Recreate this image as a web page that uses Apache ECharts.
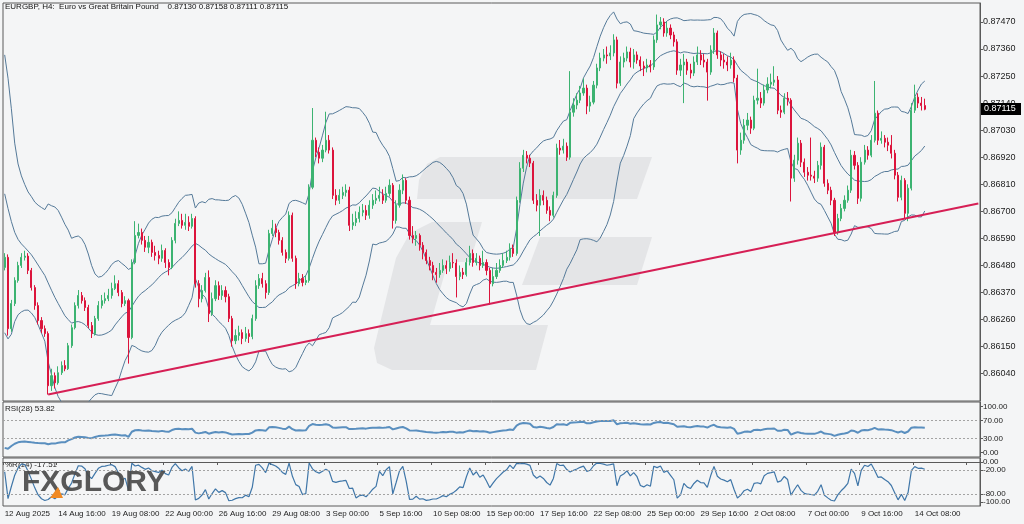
<!DOCTYPE html>
<html>
<head>
<meta charset="utf-8">
<script src="https://cdn.jsdelivr.net/npm/echarts@6/dist/echarts.min.js"></script>
<style>
html, body { margin: 0; padding: 0; background: #f4f5f6; }
#chart { width: 1024px; height: 524px; }
</style>
</head>
<body>
<div id="chart"></div>
<script>
// EURGBP H4, 12 Aug - 14 Oct 2025
// closes of the 19 bars before the window (only feed the Bollinger / RSI warm-up)
const priorCloses = [0.87420, 0.87380, 0.87300, 0.87050, 0.86880, 0.86800, 0.86760, 0.86700, 0.86720, 0.86680,
  0.86650, 0.86620, 0.86600, 0.86630, 0.86580, 0.86550, 0.86570, 0.86550, 0.86472]

const closes = [
  0.86513, 0.86223, 0.86325, 0.86419, 0.86480, 0.86513, 0.86518, 0.86460, 0.86390, 0.86317,
  0.86256, 0.86223, 0.86203, 0.85991, 0.86032, 0.86003, 0.86044, 0.86073, 0.86060, 0.86154,
  0.86227, 0.86317, 0.86358, 0.86337, 0.86309, 0.86236, 0.86203, 0.86264, 0.86317, 0.86337,
  0.86345, 0.86358, 0.86386, 0.86406, 0.86370, 0.86325, 0.86337, 0.86187, 0.86492, 0.86602,
  0.86614, 0.86582, 0.86554, 0.86574, 0.86533, 0.86521, 0.86509, 0.86541, 0.86492, 0.86472,
  0.86582, 0.86651, 0.86663, 0.86643, 0.86655, 0.86639, 0.86671, 0.86406, 0.86345, 0.86378,
  0.86431, 0.86284, 0.86345, 0.86398, 0.86358, 0.86378, 0.86353, 0.86264, 0.86174, 0.86195,
  0.86207, 0.86183, 0.86203, 0.86191, 0.86264, 0.86398, 0.86427, 0.86406, 0.86370, 0.86610,
  0.86631, 0.86614, 0.86582, 0.86533, 0.86509, 0.86684, 0.86509, 0.86406, 0.86427, 0.86411,
  0.86419, 0.86798, 0.86989, 0.86940, 0.86916, 0.86949, 0.86989, 0.86949, 0.86765, 0.86745,
  0.86765, 0.86777, 0.86786, 0.86643, 0.86655, 0.86671, 0.86696, 0.86704, 0.86684, 0.86725,
  0.86745, 0.86753, 0.86765, 0.86745, 0.86773, 0.86806, 0.86663, 0.86725, 0.86786, 0.86826,
  0.86745, 0.86602, 0.86590, 0.86602, 0.86562, 0.86533, 0.86500, 0.86480, 0.86452, 0.86443,
  0.86460, 0.86480, 0.86468, 0.86492, 0.86490, 0.86435, 0.86452, 0.86443, 0.86492, 0.86529,
  0.86492, 0.86509, 0.86480, 0.86492, 0.86460, 0.86406, 0.86435, 0.86460, 0.86480, 0.86500,
  0.86513, 0.86550, 0.86529, 0.86745, 0.86875, 0.86928, 0.86916, 0.86896, 0.86745, 0.86725,
  0.86765, 0.86745, 0.86704, 0.86684, 0.86765, 0.86957, 0.86949, 0.86965, 0.86920, 0.87103,
  0.87132, 0.87152, 0.87181, 0.87201, 0.87128, 0.87144, 0.87213, 0.87283, 0.87323, 0.87336,
  0.87332, 0.87344, 0.87397, 0.87221, 0.87307, 0.87323, 0.87348, 0.87307, 0.87336, 0.87315,
  0.87291, 0.87283, 0.87295, 0.87287, 0.87397, 0.87458, 0.87470, 0.87425, 0.87445, 0.87417,
  0.87389, 0.87274, 0.87295, 0.87307, 0.87274, 0.87262, 0.87307, 0.87336, 0.87315, 0.87307,
  0.87266, 0.87356, 0.87425, 0.87336, 0.87315, 0.87307, 0.87295, 0.87315, 0.87242, 0.86949,
  0.86989, 0.87050, 0.87071, 0.87038, 0.87152, 0.87160, 0.87140, 0.87193, 0.87217, 0.87225,
  0.87234, 0.87111, 0.87103, 0.87160, 0.87152, 0.86835, 0.86908, 0.86977, 0.86900, 0.86859,
  0.86847, 0.86843, 0.86835, 0.86887, 0.86961, 0.86814, 0.86786, 0.86745, 0.86614, 0.86671,
  0.86712, 0.86745, 0.86786, 0.86928, 0.86887, 0.86753, 0.86900, 0.86949, 0.86928, 0.86989,
  0.87099, 0.86989, 0.86997, 0.86981, 0.86969, 0.86936, 0.86847, 0.86757, 0.86826, 0.86692,
  0.86794, 0.87111, 0.87164, 0.87140, 0.87130, 0.87115
]

const highs = [
  0.86530, 0.86525, 0.86340, 0.86432, 0.86495, 0.86530, 0.86540, 0.86530, 0.86470, 0.86400,
  0.86330, 0.86270, 0.86236, 0.86212, 0.86060, 0.86045, 0.86070, 0.86090, 0.86095, 0.86165,
  0.86240, 0.86330, 0.86380, 0.86372, 0.86350, 0.86320, 0.86250, 0.86275, 0.86335, 0.86360,
  0.86370, 0.86385, 0.86410, 0.86440, 0.86420, 0.86380, 0.86355, 0.86345, 0.86505, 0.86660,
  0.86650, 0.86630, 0.86600, 0.86600, 0.86585, 0.86560, 0.86540, 0.86565, 0.86550, 0.86505,
  0.86595, 0.86670, 0.86700, 0.86690, 0.86690, 0.86680, 0.86690, 0.86680, 0.86420, 0.86400,
  0.86450, 0.86460, 0.86370, 0.86420, 0.86415, 0.86400, 0.86395, 0.86365, 0.86275, 0.86220,
  0.86235, 0.86220, 0.86230, 0.86220, 0.86280, 0.86420, 0.86445, 0.86450, 0.86420, 0.86625,
  0.86665, 0.86650, 0.86625, 0.86595, 0.86545, 0.86700, 0.86695, 0.86520, 0.86450, 0.86445,
  0.86440, 0.86810, 0.87120, 0.87000, 0.86960, 0.86970, 0.87105, 0.87010, 0.86960, 0.86790,
  0.86790, 0.86800, 0.86810, 0.86800, 0.86690, 0.86700, 0.86720, 0.86730, 0.86725, 0.86745,
  0.86770, 0.86785, 0.86800, 0.86790, 0.86800, 0.86830, 0.86815, 0.86745, 0.86810, 0.86850,
  0.86835, 0.86760, 0.86640, 0.86620, 0.86610, 0.86575, 0.86545, 0.86515, 0.86495, 0.86470,
  0.86490, 0.86505, 0.86500, 0.86520, 0.86530, 0.86505, 0.86480, 0.86470, 0.86510, 0.86560,
  0.86545, 0.86530, 0.86520, 0.86540, 0.86505, 0.86470, 0.86470, 0.86490, 0.86505, 0.86530,
  0.86540, 0.86570, 0.86565, 0.86760, 0.86900, 0.86950, 0.86945, 0.86930, 0.86905, 0.86770,
  0.86790, 0.86785, 0.86760, 0.86720, 0.86780, 0.86975, 0.86990, 0.86995, 0.86980, 0.87270,
  0.87160, 0.87180, 0.87210, 0.87240, 0.87215, 0.87170, 0.87230, 0.87300, 0.87345, 0.87360,
  0.87370, 0.87375, 0.87420, 0.87410, 0.87330, 0.87345, 0.87370, 0.87365, 0.87360, 0.87350,
  0.87330, 0.87310, 0.87320, 0.87315, 0.87415, 0.87500, 0.87490, 0.87485, 0.87470, 0.87460,
  0.87430, 0.87400, 0.87320, 0.87340, 0.87320, 0.87300, 0.87330, 0.87370, 0.87355, 0.87340,
  0.87320, 0.87375, 0.87445, 0.87435, 0.87350, 0.87340, 0.87330, 0.87345, 0.87330, 0.87255,
  0.87020, 0.87075, 0.87100, 0.87085, 0.87170, 0.87280, 0.87185, 0.87215, 0.87245, 0.87260,
  0.87290, 0.87250, 0.87130, 0.87180, 0.87185, 0.87160, 0.86930, 0.87000, 0.86990, 0.86915,
  0.86880, 0.87000, 0.86865, 0.86905, 0.86980, 0.86970, 0.86830, 0.86800, 0.86755, 0.86690,
  0.86730, 0.86765, 0.86805, 0.86950, 0.86945, 0.86900, 0.86920, 0.86970, 0.86965, 0.87010,
  0.87230, 0.87110, 0.87025, 0.87010, 0.87000, 0.87010, 0.86950, 0.86860, 0.86845, 0.86835,
  0.86810, 0.87140, 0.87215, 0.87180, 0.87165, 0.87158
]

const lows = [
  0.86460, 0.86195, 0.86210, 0.86315, 0.86410, 0.86470, 0.86500, 0.86445, 0.86378, 0.86300,
  0.86240, 0.86205, 0.86190, 0.85955, 0.85970, 0.85980, 0.85995, 0.86035, 0.86050, 0.86055,
  0.86145, 0.86220, 0.86305, 0.86325, 0.86295, 0.86225, 0.86185, 0.86195, 0.86255, 0.86305,
  0.86325, 0.86335, 0.86345, 0.86380, 0.86355, 0.86310, 0.86315, 0.86081, 0.86180, 0.86485,
  0.86590, 0.86565, 0.86535, 0.86530, 0.86515, 0.86500, 0.86485, 0.86495, 0.86470, 0.86440,
  0.86465, 0.86570, 0.86640, 0.86630, 0.86625, 0.86620, 0.86630, 0.86390, 0.86310, 0.86330,
  0.86370, 0.86250, 0.86275, 0.86335, 0.86340, 0.86340, 0.86330, 0.86250, 0.86150, 0.86160,
  0.86175, 0.86160, 0.86170, 0.86165, 0.86180, 0.86255, 0.86385, 0.86390, 0.86345, 0.86360,
  0.86600, 0.86595, 0.86565, 0.86520, 0.86490, 0.86500, 0.86495, 0.86385, 0.86395, 0.86395,
  0.86400, 0.86410, 0.86790, 0.86920, 0.86895, 0.86900, 0.86940, 0.86935, 0.86750, 0.86725,
  0.86730, 0.86750, 0.86760, 0.86620, 0.86625, 0.86640, 0.86655, 0.86680, 0.86665, 0.86670,
  0.86710, 0.86730, 0.86740, 0.86730, 0.86735, 0.86760, 0.86630, 0.86650, 0.86715, 0.86770,
  0.86730, 0.86585, 0.86570, 0.86560, 0.86540, 0.86505, 0.86485, 0.86460, 0.86420, 0.86410,
  0.86430, 0.86450, 0.86445, 0.86455, 0.86470, 0.86350, 0.86420, 0.86425, 0.86435, 0.86480,
  0.86475, 0.86480, 0.86460, 0.86470, 0.86440, 0.86320, 0.86395, 0.86425, 0.86450, 0.86470,
  0.86490, 0.86500, 0.86515, 0.86520, 0.86735, 0.86860, 0.86895, 0.86880, 0.86730, 0.86700,
  0.86600, 0.86725, 0.86690, 0.86660, 0.86675, 0.86755, 0.86930, 0.86935, 0.86905, 0.86910,
  0.87085, 0.87115, 0.87140, 0.87170, 0.87095, 0.87105, 0.87135, 0.87200, 0.87270, 0.87310,
  0.87300, 0.87315, 0.87330, 0.87200, 0.87210, 0.87285, 0.87310, 0.87285, 0.87280, 0.87300,
  0.87270, 0.87250, 0.87265, 0.87265, 0.87275, 0.87385, 0.87440, 0.87410, 0.87410, 0.87400,
  0.87370, 0.87255, 0.87250, 0.87140, 0.87255, 0.87240, 0.87250, 0.87295, 0.87295, 0.87285,
  0.87150, 0.87255, 0.87340, 0.87320, 0.87290, 0.87280, 0.87270, 0.87280, 0.87225, 0.86895,
  0.86930, 0.86975, 0.87030, 0.87015, 0.87030, 0.87135, 0.87120, 0.87130, 0.87180, 0.87200,
  0.87210, 0.87095, 0.87080, 0.87095, 0.87130, 0.86740, 0.86820, 0.86890, 0.86880, 0.86840,
  0.86825, 0.86825, 0.86815, 0.86820, 0.86870, 0.86800, 0.86770, 0.86725, 0.86600, 0.86605,
  0.86660, 0.86700, 0.86735, 0.86775, 0.86870, 0.86730, 0.86740, 0.86890, 0.86910, 0.86920,
  0.86980, 0.86970, 0.86975, 0.86960, 0.86945, 0.86915, 0.86830, 0.86740, 0.86745, 0.86670,
  0.86660, 0.86785, 0.87100, 0.87120, 0.87110, 0.87111
]

// one label every 16 bars
const tickLabels = ['12 Aug 2025', '14 Aug 16:00', '19 Aug 08:00', '22 Aug 00:00', '26 Aug 16:00', '29 Aug 08:00',
  '3 Sep 00:00', '5 Sep 16:00', '10 Sep 08:00', '15 Sep 00:00', '17 Sep 16:00', '22 Sep 08:00',
  '25 Sep 00:00', '29 Sep 16:00', '2 Oct 08:00', '7 Oct 00:00', '9 Oct 16:00', '14 Oct 08:00']
const priceTicks = [0.86040, 0.86150, 0.86260, 0.86370, 0.86480, 0.86590, 0.86700, 0.86810, 0.86920,
  0.87030, 0.87140, 0.87250, 0.87360, 0.87470]
const rsiTicks = [0, 30, 70, 100]
const rsiLevels = [70, 30]
const wprTicks = [-100, -80, -20, 0]
const wprLevels = [-20, -80]
// support line drawn on the chart: bar index, price
const trendLine = [[13, 0.85955], [291, 0.86732]]

const slotCount = 292 // bars + empty right margin
const tickEvery = 16
const font = 'Liberation Sans, Arial, sans-serif'

const pre = priorCloses.length
const allCloses = priorCloses.concat(closes)
// MT4 H4 bars open at the previous close
const candles = closes.map((c, i) => [allCloses[pre + i - 1], c, lows[i], highs[i]])
const slots = Array.from({ length: slotCount }, (_, i) => i)

// Bollinger Bands (20, 2)
const bbUp = [], bbMid = [], bbLow = []
closes.forEach((c, i) => {
    const w = allCloses.slice(pre + i - 19, pre + i + 1)
    const m = w.reduce((a, b) => a + b, 0) / w.length
    const sd = Math.sqrt(w.reduce((a, b) => a + (b - m) * (b - m), 0) / w.length)
    bbMid.push(m)
    bbUp.push(m + 2 * sd)
    bbLow.push(m - 2 * sd)
})

// RSI(28), Wilder smoothing
const rsi = []
let ag = 0, al = 0
for (let k = 1; k < allCloses.length; k++) {
    const d = allCloses[k] - allCloses[k - 1]
    const n = Math.min(k, 28)
    ag = (ag * (n - 1) + Math.max(d, 0)) / n
    al = (al * (n - 1) + Math.max(-d, 0)) / n
    if (k >= pre) rsi.push(al === 0 ? 100 : 100 - 100 / (1 + ag / al))
}

// Williams %R(14)
const wpr = closes.map((c, i) => {
    const s = Math.max(0, i - 13)
    const hh = Math.max(...highs.slice(s, i + 1))
    const ll = Math.min(...lows.slice(s, i + 1))
    return hh === ll ? -50 : -100 * (hh - c) / (hh - ll)
})

const gridBorder = '#5a5a5a'
const grids = [
    { left: 3, right: 44, top: 3, height: 398 },
    { left: 3, right: 44, top: 402, height: 55 },
    { left: 3, right: 44, top: 458, height: 48 }
].map(g => Object.assign(g, { show: true, borderColor: gridBorder, borderWidth: 1, backgroundColor: 'transparent' }))

function xAxisFor(idx, labels) {
    return {
        type: 'category',
        gridIndex: idx,
        data: slots,
        boundaryGap: true,
        axisLine: { show: labels, lineStyle: { color: gridBorder } },
        axisTick: {
            show: labels,
            length: 3,
            interval: i => i % tickEvery === 0,
            lineStyle: { color: gridBorder }
        },
        axisLabel: {
            show: labels,
            interval: i => i % tickEvery === 0,
            formatter: v => tickLabels[v / tickEvery] || '',
            align: 'left',
            margin: 4,
            fontSize: 8,
            fontFamily: font,
            color: '#222'
        },
        splitLine: { show: false }
    }
}

function yAxisFor(idx, min, max, ticks, size, fmt) {
    return {
        type: 'value',
        gridIndex: idx,
        position: 'right',
        min,
        max,
        scale: true,
        axisLine: { show: true, lineStyle: { color: gridBorder } },
        axisTick: { show: true, length: 3, customValues: ticks, lineStyle: { color: gridBorder } },
        axisLabel: {
            customValues: ticks,
            formatter: fmt,
            fontSize: size,
            fontFamily: font,
            color: '#222',
            margin: 3
        },
        splitLine: { show: false }
    }
}

function levelLines(levels) {
    return {
        silent: true,
        symbol: 'none',
        label: { show: false },
        lineStyle: { type: [2, 2], color: '#a3a3a3', width: 1 },
        data: levels.map(v => ({ yAxis: v }))
    }
}

const bandStyle = { color: '#557a99', width: 1 }
const wmFill = '#e4e5e7'

const chart = echarts.init(document.getElementById('chart'))
chart.setOption({
    animation: false,
    backgroundColor: '#f4f5f6',
    grid: grids,
    xAxis: [xAxisFor(0, false), xAxisFor(1, false), xAxisFor(2, true)],
    yAxis: [
        yAxisFor(0, 0.85929, 0.87547, priceTicks, 9, v => v.toFixed(5)),
        yAxisFor(1, -10, 110, rsiTicks, 8, v => v.toFixed(2)),
        yAxisFor(2, -110, 10, wprTicks, 8, v => v.toFixed(2))
    ],
    graphic: [
        // FXGlory watermark in the middle
        { id: 'wmTop', type: 'polygon', z: 0, shape: { points: [[440, 157], [652, 157], [637, 199], [417, 199], [419, 180], [427, 164]] }, style: { fill: wmFill } },
        { id: 'wmMid', type: 'polygon', z: 0, shape: { points: [[540, 237], [652, 237], [637, 285], [522, 285]] }, style: { fill: wmFill } },
        {
            id: 'wmG', type: 'polygon', z: 0,
            shape: { points: [[432, 222], [482, 222], [470, 262], [448, 262], [430, 325], [548, 325], [536, 370], [392, 370], [377, 363], [374, 348], [396, 258], [410, 233]] },
            style: { fill: wmFill }
        },
        { id: 'title', type: 'text', left: 5, top: 3, style: { text: 'EURGBP, H4:  Euro vs Great Britain Pound    0.87130 0.87158 0.87111 0.87115', fontSize: 8, fontFamily: font, fill: '#111' } },
        { id: 'rsiName', type: 'text', left: 5, top: 405, style: { text: 'RSI(28) 53.82', fontSize: 8, fontFamily: font, fill: '#222' } },
        { id: 'wprName', type: 'text', left: 5, top: 461, style: { text: '%R(14) -17.51', fontSize: 8, fontFamily: font, fill: '#222' } },
        // FXGLORY logo bottom left
        { id: 'logo', type: 'text', left: 22, top: 468, z: 10, style: { text: 'FXGLORY', fontSize: 30, fontWeight: 'bold', fontFamily: font, fill: '#4a4a4a', opacity: 0.92 } },
        { id: 'logoMark', type: 'polygon', z: 11, shape: { points: [[50, 498], [58, 487], [63, 498]] }, style: { fill: '#f08a24' } }
    ],
    series: [
        {
            name: 'Upper',
            type: 'line',
            xAxisIndex: 0,
            yAxisIndex: 0,
            data: bbUp,
            showSymbol: false,
            lineStyle: bandStyle,
            z: 2
        },
        {
            name: 'Middle',
            type: 'line',
            xAxisIndex: 0,
            yAxisIndex: 0,
            data: bbMid,
            showSymbol: false,
            lineStyle: bandStyle,
            z: 2
        },
        {
            name: 'Lower',
            type: 'line',
            xAxisIndex: 0,
            yAxisIndex: 0,
            data: bbLow,
            showSymbol: false,
            lineStyle: bandStyle,
            z: 2
        },
        {
            name: 'EURGBP',
            type: 'candlestick',
            xAxisIndex: 0,
            yAxisIndex: 0,
            data: candles,
            barWidth: 1.6,
            itemStyle: {
                color: '#3cb371',
                color0: '#dc143c',
                borderColor: '#3cb371',
                borderColor0: '#dc143c',
                borderWidth: 1
            },
            z: 3
        },
        {
            name: 'Trend',
            type: 'line',
            xAxisIndex: 0,
            yAxisIndex: 0,
            data: trendLine,
            showSymbol: false,
            lineStyle: { color: '#d61f55', width: 2 },
            z: 4
        },
        {
            name: 'RSI',
            type: 'line',
            xAxisIndex: 1,
            yAxisIndex: 1,
            data: rsi,
            showSymbol: false,
            lineStyle: { color: '#5a8fbf', width: 2 },
            markLine: levelLines(rsiLevels)
        },
        {
            name: '%R',
            type: 'line',
            xAxisIndex: 2,
            yAxisIndex: 2,
            data: wpr,
            showSymbol: false,
            lineStyle: { color: '#3f76a8', width: 1.2 },
            markLine: levelLines(wprLevels)
        }
    ]
})

// current price box on the right scale
const last = closes[closes.length - 1]
const py = Math.round(chart.convertToPixel({ yAxisIndex: 0 }, last))
chart.setOption({
    graphic: [
        { id: 'priceBox', type: 'rect', z: 20, shape: { x: 981, y: py - 6, width: 40, height: 12 }, style: { fill: '#000' } },
        { id: 'priceText', type: 'text', z: 21, left: 984, top: py - 5, style: { text: last.toFixed(5), fontSize: 9, fontFamily: font, fill: '#fff' } }
    ]
})
</script>
</body>
</html>
